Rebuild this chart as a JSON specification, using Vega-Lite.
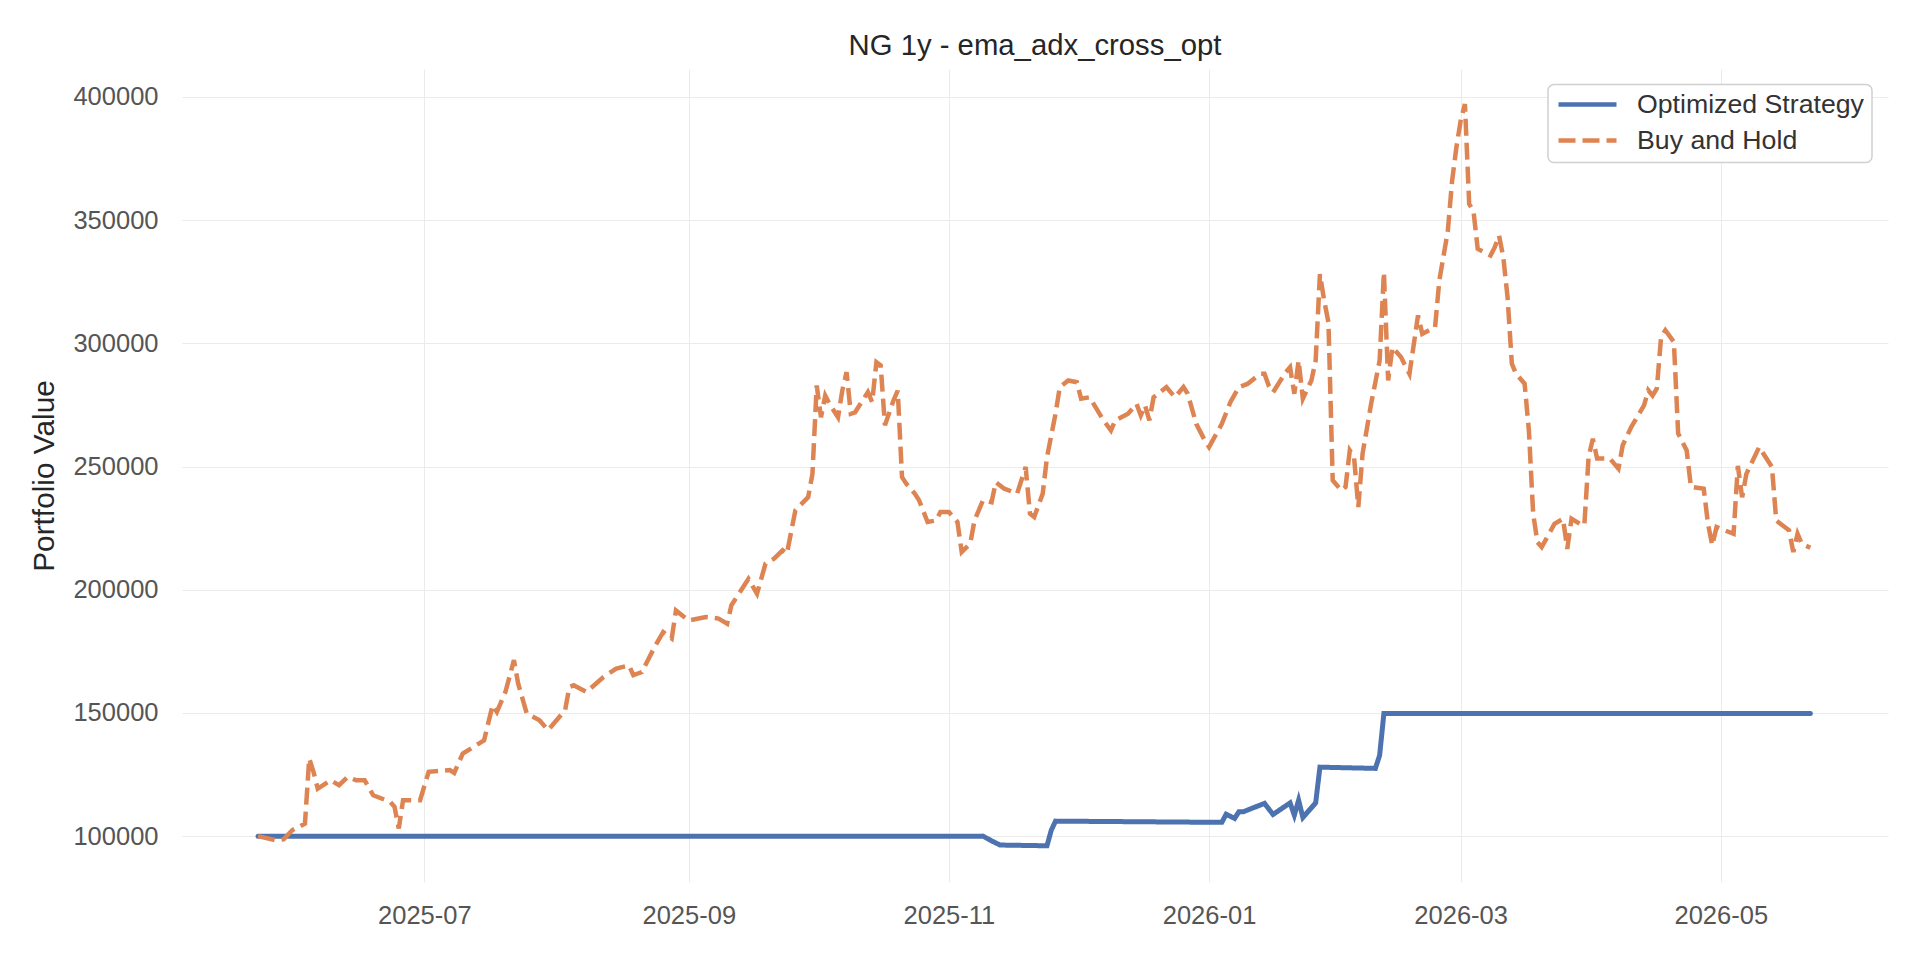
{
"$schema":"https://vega.github.io/schema/vega-lite/v6.json",
"width":1706,"height":813,
"autosize":{"type":"none"},
"padding":{"left":182,"top":69,"right":32,"bottom":78},
"background":"white",
"title":{"text":"NG 1y - ema_adx_cross_opt","anchor":"middle","fontSize":29.3,"fontWeight":"normal","font":"Liberation Sans","color":"#262626","baseline":"alphabetic","offset":-15},
"config":{
"view":{"stroke":null},
"axis":{"domain":false,"ticks":false,"tickSize":0,"grid":true,"gridColor":"#ebebeb","gridWidth":1,"labelFont":"Liberation Sans","labelFontSize":25.5,"labelColor":"#555555","titleFont":"Liberation Sans","titleFontSize":29.8,"titleFontWeight":"normal","titleColor":"#262626"},
"legend":{"symbolType":"stroke","symbolSize":3364,"symbolStrokeWidth":4.5,"clipHeight":24,"rowPadding":9.1,"labelFont":"Liberation Sans","labelFontSize":26.7,"labelColor":"#333333","labelOffset":18,"padding":8,"strokeColor":"#d0d0d0","strokeWidth":1.5,"fillColor":"white","cornerRadius":6,"labelLimit":0}
},
"data":{"values":[
{"d":"2025-05-23","s":"Optimized Strategy","v":100000},
{"d":"2025-11-09","s":"Optimized Strategy","v":100000},
{"d":"2025-11-11","s":"Optimized Strategy","v":98100},
{"d":"2025-11-13","s":"Optimized Strategy","v":96400},
{"d":"2025-11-24","s":"Optimized Strategy","v":96100},
{"d":"2025-11-25","s":"Optimized Strategy","v":102400},
{"d":"2025-11-26","s":"Optimized Strategy","v":106100},
{"d":"2026-01-04","s":"Optimized Strategy","v":105600},
{"d":"2026-01-05","s":"Optimized Strategy","v":108900},
{"d":"2026-01-07","s":"Optimized Strategy","v":107200},
{"d":"2026-01-08","s":"Optimized Strategy","v":109900},
{"d":"2026-01-09","s":"Optimized Strategy","v":109900},
{"d":"2026-01-14","s":"Optimized Strategy","v":113300},
{"d":"2026-01-16","s":"Optimized Strategy","v":108800},
{"d":"2026-01-20","s":"Optimized Strategy","v":113500},
{"d":"2026-01-21","s":"Optimized Strategy","v":108500},
{"d":"2026-01-22","s":"Optimized Strategy","v":114600},
{"d":"2026-01-23","s":"Optimized Strategy","v":107600},
{"d":"2026-01-26","s":"Optimized Strategy","v":113500},
{"d":"2026-01-27","s":"Optimized Strategy","v":128000},
{"d":"2026-02-09","s":"Optimized Strategy","v":127500},
{"d":"2026-02-10","s":"Optimized Strategy","v":132800},
{"d":"2026-02-11","s":"Optimized Strategy","v":149800},
{"d":"2026-05-22","s":"Optimized Strategy","v":149800},
{"d":"2025-05-23","s":"Buy and Hold","v":100000},
{"d":"2025-05-27","s":"Buy and Hold","v":98400},
{"d":"2025-05-29","s":"Buy and Hold","v":98700},
{"d":"2025-05-31","s":"Buy and Hold","v":102400},
{"d":"2025-06-03","s":"Buy and Hold","v":105100},
{"d":"2025-06-04","s":"Buy and Hold","v":131500},
{"d":"2025-06-05","s":"Buy and Hold","v":126100},
{"d":"2025-06-06","s":"Buy and Hold","v":119300},
{"d":"2025-06-09","s":"Buy and Hold","v":122700},
{"d":"2025-06-11","s":"Buy and Hold","v":120700},
{"d":"2025-06-13","s":"Buy and Hold","v":124000},
{"d":"2025-06-15","s":"Buy and Hold","v":122700},
{"d":"2025-06-17","s":"Buy and Hold","v":122700},
{"d":"2025-06-19","s":"Buy and Hold","v":116600},
{"d":"2025-06-23","s":"Buy and Hold","v":113900},
{"d":"2025-06-24","s":"Buy and Hold","v":111900},
{"d":"2025-06-25","s":"Buy and Hold","v":103100},
{"d":"2025-06-26","s":"Buy and Hold","v":114600},
{"d":"2025-06-30","s":"Buy and Hold","v":114600},
{"d":"2025-07-02","s":"Buy and Hold","v":126100},
{"d":"2025-07-07","s":"Buy and Hold","v":126800},
{"d":"2025-07-08","s":"Buy and Hold","v":125700},
{"d":"2025-07-10","s":"Buy and Hold","v":133500},
{"d":"2025-07-15","s":"Buy and Hold","v":138900},
{"d":"2025-07-17","s":"Buy and Hold","v":153100},
{"d":"2025-07-18","s":"Buy and Hold","v":150400},
{"d":"2025-07-20","s":"Buy and Hold","v":158500},
{"d":"2025-07-22","s":"Buy and Hold","v":171400},
{"d":"2025-07-23","s":"Buy and Hold","v":161900},
{"d":"2025-07-25","s":"Buy and Hold","v":149800},
{"d":"2025-07-28","s":"Buy and Hold","v":147000},
{"d":"2025-07-30","s":"Buy and Hold","v":143000},
{"d":"2025-08-03","s":"Buy and Hold","v":151100},
{"d":"2025-08-04","s":"Buy and Hold","v":160500},
{"d":"2025-08-05","s":"Buy and Hold","v":161200},
{"d":"2025-08-08","s":"Buy and Hold","v":158500},
{"d":"2025-08-12","s":"Buy and Hold","v":164600},
{"d":"2025-08-15","s":"Buy and Hold","v":168000},
{"d":"2025-08-18","s":"Buy and Hold","v":169300},
{"d":"2025-08-19","s":"Buy and Hold","v":165300},
{"d":"2025-08-21","s":"Buy and Hold","v":166600},
{"d":"2025-08-24","s":"Buy and Hold","v":176800},
{"d":"2025-08-26","s":"Buy and Hold","v":182800},
{"d":"2025-08-28","s":"Buy and Hold","v":180200},
{"d":"2025-08-29","s":"Buy and Hold","v":191600},
{"d":"2025-09-01","s":"Buy and Hold","v":187500},
{"d":"2025-09-05","s":"Buy and Hold","v":188900},
{"d":"2025-09-08","s":"Buy and Hold","v":188300},
{"d":"2025-09-10","s":"Buy and Hold","v":186200},
{"d":"2025-09-11","s":"Buy and Hold","v":193700},
{"d":"2025-09-15","s":"Buy and Hold","v":204400},
{"d":"2025-09-17","s":"Buy and Hold","v":198400},
{"d":"2025-09-19","s":"Buy and Hold","v":210600},
{"d":"2025-09-21","s":"Buy and Hold","v":212600},
{"d":"2025-09-23","s":"Buy and Hold","v":216000},
{"d":"2025-09-24","s":"Buy and Hold","v":214600},
{"d":"2025-09-26","s":"Buy and Hold","v":232200},
{"d":"2025-09-29","s":"Buy and Hold","v":237600},
{"d":"2025-09-30","s":"Buy and Hold","v":247000},
{"d":"2025-10-01","s":"Buy and Hold","v":282900},
{"d":"2025-10-02","s":"Buy and Hold","v":270000},
{"d":"2025-10-03","s":"Buy and Hold","v":278800},
{"d":"2025-10-04","s":"Buy and Hold","v":275400},
{"d":"2025-10-06","s":"Buy and Hold","v":270000},
{"d":"2025-10-07","s":"Buy and Hold","v":280800},
{"d":"2025-10-08","s":"Buy and Hold","v":288300},
{"d":"2025-10-09","s":"Buy and Hold","v":271400},
{"d":"2025-10-10","s":"Buy and Hold","v":272000},
{"d":"2025-10-13","s":"Buy and Hold","v":280200},
{"d":"2025-10-14","s":"Buy and Hold","v":276100},
{"d":"2025-10-15","s":"Buy and Hold","v":292300},
{"d":"2025-10-16","s":"Buy and Hold","v":291000},
{"d":"2025-10-17","s":"Buy and Hold","v":266700},
{"d":"2025-10-19","s":"Buy and Hold","v":276800},
{"d":"2025-10-20","s":"Buy and Hold","v":280800},
{"d":"2025-10-21","s":"Buy and Hold","v":245700},
{"d":"2025-10-22","s":"Buy and Hold","v":243000},
{"d":"2025-10-24","s":"Buy and Hold","v":239000},
{"d":"2025-10-25","s":"Buy and Hold","v":236300},
{"d":"2025-10-27","s":"Buy and Hold","v":227500},
{"d":"2025-10-29","s":"Buy and Hold","v":228100},
{"d":"2025-10-30","s":"Buy and Hold","v":231500},
{"d":"2025-11-01","s":"Buy and Hold","v":231500},
{"d":"2025-11-03","s":"Buy and Hold","v":227500},
{"d":"2025-11-04","s":"Buy and Hold","v":215300},
{"d":"2025-11-06","s":"Buy and Hold","v":218700},
{"d":"2025-11-07","s":"Buy and Hold","v":228100},
{"d":"2025-11-09","s":"Buy and Hold","v":236300},
{"d":"2025-11-11","s":"Buy and Hold","v":235500},
{"d":"2025-11-12","s":"Buy and Hold","v":243600},
{"d":"2025-11-14","s":"Buy and Hold","v":241000},
{"d":"2025-11-17","s":"Buy and Hold","v":239000},
{"d":"2025-11-19","s":"Buy and Hold","v":249800},
{"d":"2025-11-20","s":"Buy and Hold","v":230900},
{"d":"2025-11-21","s":"Buy and Hold","v":229500},
{"d":"2025-11-23","s":"Buy and Hold","v":239000},
{"d":"2025-11-24","s":"Buy and Hold","v":253800},
{"d":"2025-11-26","s":"Buy and Hold","v":271400},
{"d":"2025-11-27","s":"Buy and Hold","v":282200},
{"d":"2025-11-29","s":"Buy and Hold","v":284900},
{"d":"2025-12-01","s":"Buy and Hold","v":284200},
{"d":"2025-12-02","s":"Buy and Hold","v":277500},
{"d":"2025-12-04","s":"Buy and Hold","v":278100},
{"d":"2025-12-07","s":"Buy and Hold","v":269400},
{"d":"2025-12-09","s":"Buy and Hold","v":264600},
{"d":"2025-12-10","s":"Buy and Hold","v":268700},
{"d":"2025-12-13","s":"Buy and Hold","v":271400},
{"d":"2025-12-15","s":"Buy and Hold","v":275400},
{"d":"2025-12-16","s":"Buy and Hold","v":270700},
{"d":"2025-12-17","s":"Buy and Hold","v":274800},
{"d":"2025-12-18","s":"Buy and Hold","v":268700},
{"d":"2025-12-19","s":"Buy and Hold","v":278100},
{"d":"2025-12-22","s":"Buy and Hold","v":282200},
{"d":"2025-12-24","s":"Buy and Hold","v":278100},
{"d":"2025-12-26","s":"Buy and Hold","v":282200},
{"d":"2025-12-27","s":"Buy and Hold","v":279500},
{"d":"2025-12-29","s":"Buy and Hold","v":267300},
{"d":"2025-12-31","s":"Buy and Hold","v":260600},
{"d":"2026-01-01","s":"Buy and Hold","v":257900},
{"d":"2026-01-04","s":"Buy and Hold","v":267300},
{"d":"2026-01-06","s":"Buy and Hold","v":276100},
{"d":"2026-01-08","s":"Buy and Hold","v":282200},
{"d":"2026-01-10","s":"Buy and Hold","v":283500},
{"d":"2026-01-13","s":"Buy and Hold","v":287600},
{"d":"2026-01-14","s":"Buy and Hold","v":287600},
{"d":"2026-01-15","s":"Buy and Hold","v":282800},
{"d":"2026-01-16","s":"Buy and Hold","v":280100},
{"d":"2026-01-19","s":"Buy and Hold","v":288300},
{"d":"2026-01-20","s":"Buy and Hold","v":290300},
{"d":"2026-01-21","s":"Buy and Hold","v":279500},
{"d":"2026-01-22","s":"Buy and Hold","v":293000},
{"d":"2026-01-23","s":"Buy and Hold","v":277500},
{"d":"2026-01-25","s":"Buy and Hold","v":284900},
{"d":"2026-01-26","s":"Buy and Hold","v":293000},
{"d":"2026-01-27","s":"Buy and Hold","v":328100},
{"d":"2026-01-28","s":"Buy and Hold","v":317300},
{"d":"2026-01-29","s":"Buy and Hold","v":308500},
{"d":"2026-01-30","s":"Buy and Hold","v":244400},
{"d":"2026-02-01","s":"Buy and Hold","v":240300},
{"d":"2026-02-02","s":"Buy and Hold","v":241700},
{"d":"2026-02-03","s":"Buy and Hold","v":256500},
{"d":"2026-02-04","s":"Buy and Hold","v":253800},
{"d":"2026-02-05","s":"Buy and Hold","v":233500},
{"d":"2026-02-06","s":"Buy and Hold","v":255200},
{"d":"2026-02-08","s":"Buy and Hold","v":275400},
{"d":"2026-02-10","s":"Buy and Hold","v":293000},
{"d":"2026-02-11","s":"Buy and Hold","v":328800},
{"d":"2026-02-12","s":"Buy and Hold","v":284900},
{"d":"2026-02-13","s":"Buy and Hold","v":298400},
{"d":"2026-02-15","s":"Buy and Hold","v":294400},
{"d":"2026-02-17","s":"Buy and Hold","v":287600},
{"d":"2026-02-19","s":"Buy and Hold","v":311300},
{"d":"2026-02-20","s":"Buy and Hold","v":303800},
{"d":"2026-02-23","s":"Buy and Hold","v":306500},
{"d":"2026-02-24","s":"Buy and Hold","v":325500},
{"d":"2026-02-26","s":"Buy and Hold","v":345700},
{"d":"2026-02-27","s":"Buy and Hold","v":366000},
{"d":"2026-02-28","s":"Buy and Hold","v":379500},
{"d":"2026-03-01","s":"Buy and Hold","v":390300},
{"d":"2026-03-02","s":"Buy and Hold","v":397100},
{"d":"2026-03-03","s":"Buy and Hold","v":356500},
{"d":"2026-03-04","s":"Buy and Hold","v":353800},
{"d":"2026-03-05","s":"Buy and Hold","v":338300},
{"d":"2026-03-08","s":"Buy and Hold","v":335600},
{"d":"2026-03-09","s":"Buy and Hold","v":339000},
{"d":"2026-03-10","s":"Buy and Hold","v":343700},
{"d":"2026-03-11","s":"Buy and Hold","v":334900},
{"d":"2026-03-12","s":"Buy and Hold","v":318700},
{"d":"2026-03-13","s":"Buy and Hold","v":291700},
{"d":"2026-03-14","s":"Buy and Hold","v":287600},
{"d":"2026-03-16","s":"Buy and Hold","v":283600},
{"d":"2026-03-17","s":"Buy and Hold","v":264600},
{"d":"2026-03-18","s":"Buy and Hold","v":230900},
{"d":"2026-03-19","s":"Buy and Hold","v":219300},
{"d":"2026-03-20","s":"Buy and Hold","v":217300},
{"d":"2026-03-23","s":"Buy and Hold","v":226700},
{"d":"2026-03-25","s":"Buy and Hold","v":228800},
{"d":"2026-03-26","s":"Buy and Hold","v":216600},
{"d":"2026-03-27","s":"Buy and Hold","v":228800},
{"d":"2026-03-29","s":"Buy and Hold","v":226700},
{"d":"2026-03-30","s":"Buy and Hold","v":226100},
{"d":"2026-03-31","s":"Buy and Hold","v":253800},
{"d":"2026-04-01","s":"Buy and Hold","v":261300},
{"d":"2026-04-02","s":"Buy and Hold","v":253200},
{"d":"2026-04-05","s":"Buy and Hold","v":253200},
{"d":"2026-04-07","s":"Buy and Hold","v":249100},
{"d":"2026-04-08","s":"Buy and Hold","v":258600},
{"d":"2026-04-10","s":"Buy and Hold","v":266000},
{"d":"2026-04-13","s":"Buy and Hold","v":274800},
{"d":"2026-04-14","s":"Buy and Hold","v":280900},
{"d":"2026-04-15","s":"Buy and Hold","v":278800},
{"d":"2026-04-16","s":"Buy and Hold","v":281600},
{"d":"2026-04-17","s":"Buy and Hold","v":302500},
{"d":"2026-04-18","s":"Buy and Hold","v":305300},
{"d":"2026-04-20","s":"Buy and Hold","v":300500},
{"d":"2026-04-21","s":"Buy and Hold","v":263400},
{"d":"2026-04-23","s":"Buy and Hold","v":256500},
{"d":"2026-04-24","s":"Buy and Hold","v":241700},
{"d":"2026-04-27","s":"Buy and Hold","v":241000},
{"d":"2026-04-28","s":"Buy and Hold","v":226700},
{"d":"2026-04-29","s":"Buy and Hold","v":218000},
{"d":"2026-04-30","s":"Buy and Hold","v":225400},
{"d":"2026-05-04","s":"Buy and Hold","v":222700},
{"d":"2026-05-05","s":"Buy and Hold","v":250300},
{"d":"2026-05-06","s":"Buy and Hold","v":237500},
{"d":"2026-05-07","s":"Buy and Hold","v":247000},
{"d":"2026-05-10","s":"Buy and Hold","v":257900},
{"d":"2026-05-13","s":"Buy and Hold","v":249800},
{"d":"2026-05-14","s":"Buy and Hold","v":228100},
{"d":"2026-05-17","s":"Buy and Hold","v":224100},
{"d":"2026-05-18","s":"Buy and Hold","v":215300},
{"d":"2026-05-19","s":"Buy and Hold","v":222700},
{"d":"2026-05-20","s":"Buy and Hold","v":218600},
{"d":"2026-05-22","s":"Buy and Hold","v":217000}
]},
"encoding":{
"x":{"field":"d","type":"temporal","scale":{"type":"utc","domain":[{"year":2025,"month":5,"date":5,"hours":4,"utc":true},{"year":2026,"month":6,"date":9,"hours":5,"utc":true}]},
"axis":{"title":null,"format":"%Y-%m","labelPadding":21.5,"labelFlush":false,"labelOverlap":false,
"values":[{"year":2025,"month":7,"date":1,"utc":true},{"year":2025,"month":9,"date":1,"utc":true},{"year":2025,"month":11,"date":1,"utc":true},{"year":2026,"month":1,"date":1,"utc":true},{"year":2026,"month":3,"date":1,"utc":true},{"year":2026,"month":5,"date":1,"utc":true}]}},
"y":{"field":"v","type":"quantitative","scale":{"domain":[81400,411300],"nice":false,"zero":false},
"axis":{"title":"Portfolio Value","values":[100000,150000,200000,250000,300000,350000,400000],"format":"d","labelPadding":24,"titlePadding":13}},
"color":{"field":"s","type":"nominal","scale":{"domain":["Optimized Strategy","Buy and Hold"],"range":["#4c72b0","#dd8452"]},
"legend":{"title":null,"orient":"none","legendX":1366,"legendY":15.5}},
"strokeDash":{"field":"s","type":"nominal","scale":{"domain":["Optimized Strategy","Buy and Hold"],"range":[[1,0],[17,7]]},
"legend":{"title":null,"orient":"none","legendX":1366,"legendY":15.5}}
},
"layer":[
{"transform":[{"filter":"datum.s === 'Optimized Strategy'"}],"mark":{"type":"line","strokeWidth":5,"strokeCap":"round"}},
{"transform":[{"filter":"datum.s === 'Buy and Hold'"}],"mark":{"type":"line","strokeWidth":4.5}}
]
}
